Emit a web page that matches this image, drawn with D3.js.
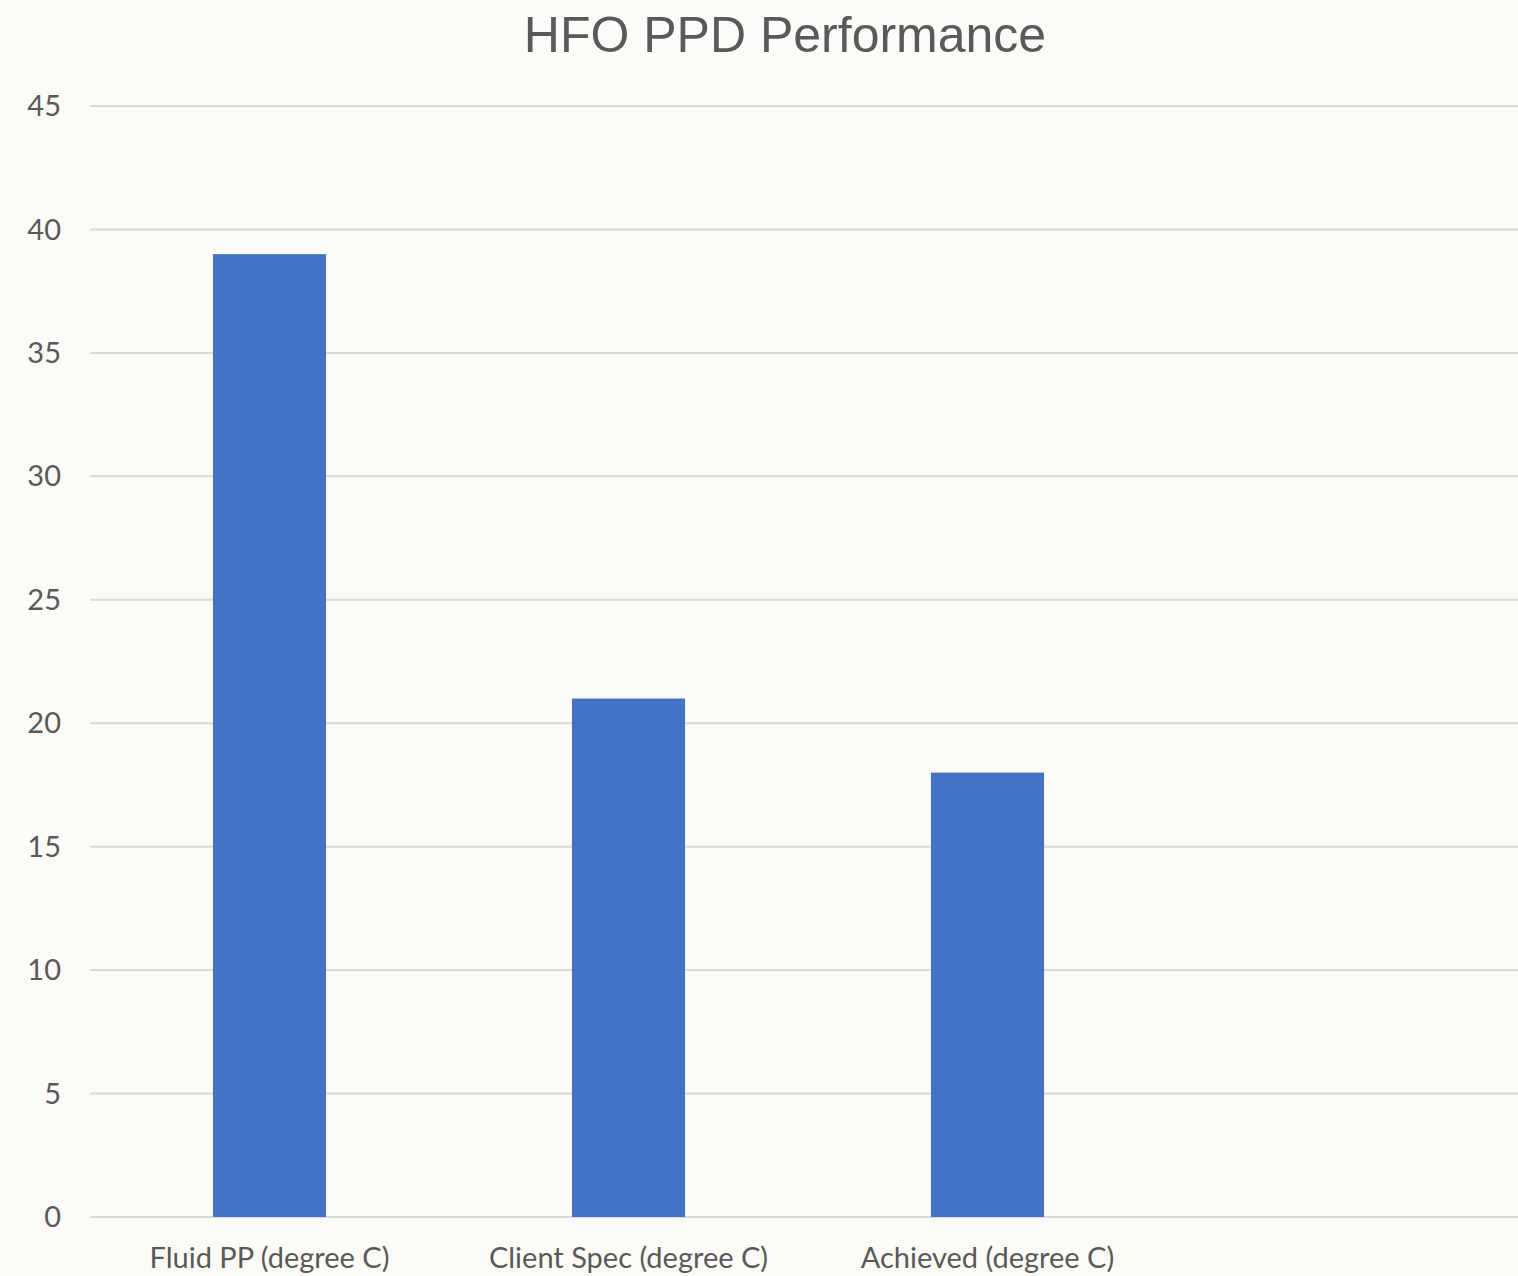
<!DOCTYPE html>
<html>
<head>
<meta charset="utf-8">
<script src="https://cdn.jsdelivr.net/npm/d3@7"></script>
<style>
  body { margin: 0; background: #fdfbf7; overflow: hidden; }
</style>
</head>
<body>
<div id="chart"></div>
<script>
const categories = ["Fluid PP (degree C)", "Client Spec (degree C)", "Achieved (degree C)", ""];
const values = [39, 21, 18, null];
const yTicks = [0, 5, 10, 15, 20, 25, 30, 35, 40, 45];

const W = 1518, H = 1276;
const margin = {top: 106, left: 90};
const plotWidth = 1436;   // plot area runs a little past the right edge of the picture
const height = 1217 - margin.top;

const svg = d3.select("#chart").append("svg")
    .attr("width", W)
    .attr("height", H)
    .style("background", "#fdfbf7");

svg.append("text")
    .attr("x", 785)
    .attr("y", 52)
    .attr("text-anchor", "middle")
    .style("font-family", "'Liberation Sans', Arial, sans-serif")
    .style("font-size", "50px")
    .attr("fill", "#595959")
    .text("HFO PPD Performance");

const g = svg.append("g")
    .attr("transform", `translate(${margin.left},${margin.top})`);

const x = d3.scaleBand()
    .domain(categories)
    .range([0, plotWidth])
    .paddingInner(0.685)
    .paddingOuter(0.3425);

const y = d3.scaleLinear()
    .domain([0, 45])
    .range([height, 0]);

// gridlines
g.selectAll(".grid")
    .data(yTicks)
    .enter()
    .append("line")
    .attr("class", "grid")
    .attr("x1", 0)
    .attr("x2", plotWidth)
    .attr("y1", d => y(d))
    .attr("y2", d => y(d))
    .attr("stroke", "#d9d9d9")
    .attr("stroke-width", 2);

// y tick labels
g.selectAll(".ytick")
    .data(yTicks)
    .enter()
    .append("text")
    .attr("class", "ytick")
    .attr("x", -29)
    .attr("y", d => y(d))
    .attr("dy", "0.35em")
    .attr("text-anchor", "end")
    .style("font-family", "Lato, 'Open Sans', sans-serif")
    .style("font-size", "29px")
    .attr("fill", "#595959")
    .text(d => d);

// bars
g.selectAll(".bar")
    .data(categories.map((c, i) => ({cat: c, val: values[i]})).filter(d => d.val != null))
    .enter()
    .append("rect")
    .attr("class", "bar")
    .attr("x", d => x(d.cat))
    .attr("y", d => y(d.val))
    .attr("width", x.bandwidth())
    .attr("height", d => y(0) - y(d.val))
    .attr("fill", "#4472c4");

// x labels
g.selectAll(".xlabel")
    .data(categories)
    .enter()
    .append("text")
    .attr("class", "xlabel")
    .attr("x", d => x(d) + x.bandwidth() / 2)
    .attr("y", height + 41)
    .attr("dy", "0.35em")
    .attr("text-anchor", "middle")
    .style("font-family", "Lato, 'Open Sans', sans-serif")
    .style("font-size", "29px")
    .attr("fill", "#595959")
    .text(d => d);
</script>
</body>
</html>
